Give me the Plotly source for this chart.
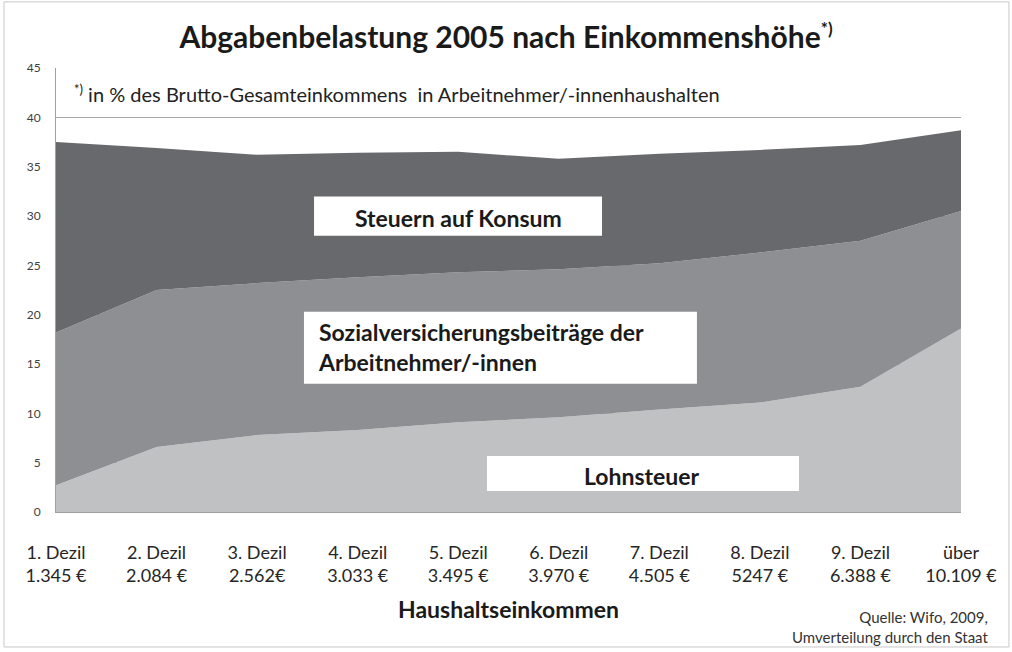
import plotly.graph_objects as go

categories = ["1. Dezil", "2. Dezil", "3. Dezil", "4. Dezil", "5. Dezil",
              "6. Dezil", "7. Dezil", "8. Dezil", "9. Dezil", "über"]
incomes = ["1.345 €", "2.084 €", "2.562€", "3.033 €", "3.495 €",
           "3.970 €", "4.505 €", "5247 €", "6.388 €", "10.109 €"]

lohnsteuer = [2.7, 6.6, 7.8, 8.3, 9.1, 9.6, 10.4, 11.1, 12.7, 18.6]
sozialvers = [15.5, 15.9, 15.4, 15.5, 15.2, 15.0, 14.8, 15.2, 14.8, 11.9]
konsum = [19.3, 14.4, 13.0, 12.6, 12.2, 11.2, 11.1, 10.4, 9.7, 8.2]

y_ticks = [0, 5, 10, 15, 20, 25, 30, 35, 40, 45]

x = list(range(len(categories)))
ticktext = [f"{c}<br>{i}" for c, i in zip(categories, incomes)]

FONT = "Lato"
fig = go.Figure()
series = [("Lohnsteuer", lohnsteuer, "#c0c1c3"),
          ("Sozialversicherungsbeiträge", sozialvers, "#8e8f93"),
          ("Steuern auf Konsum", konsum, "#68696d")]
for name, vals, col in series:
    fig.add_trace(go.Scatter(x=x, y=vals, name=name, stackgroup="one",
                             mode="none", fillcolor=col, hoverinfo="skip"))

fig.update_layout(
    width=1012, height=652,
    margin=dict(l=56, r=51, t=68, b=140),
    paper_bgcolor="white", plot_bgcolor="white",
    showlegend=False,
    font=dict(family=FONT, color="#222222"),
    title=dict(text="<b>Abgabenbelastung 2005 nach Einkommenshöhe<sup><span style='font-size:17px'>*)</span></sup></b>",
               x=0.5, xanchor="center", y=0.943, yanchor="middle",
               font=dict(size=30, color="#1a1a1a", family=FONT)),
    xaxis=dict(range=[0, 9], tickvals=x, ticktext=ticktext, showgrid=False,
               zeroline=False, showline=True, linecolor="#a0a0a0", linewidth=1,
               tickfont=dict(size=18, color="#262626"), ticks="",
               ticklabelstandoff=24, fixedrange=True),
    yaxis=dict(range=[0, 45], tickvals=y_ticks, showgrid=True, gridcolor="#a8a8a8",
               gridwidth=1, zeroline=False, showline=True, linecolor="#a0a0a0",
               tickfont=dict(size=12, color="#404040"), ticks="",
               ticklabelstandoff=12, fixedrange=True),
)

# outer frame
fig.add_shape(type="rect", xref="paper", yref="paper",
              x0=-0.0575, x1=1.053, y0=-0.304, y1=1.149,
              line=dict(color="#c8c8c8", width=1), fillcolor="rgba(0,0,0,0)", layer="below")

# white label boxes
boxes = [(2.566, 5.43, 28.0, 31.97), (2.466, 6.374, 13.0, 20.3), (4.286, 7.389, 2.13, 5.68)]
for x0, x1, y0, y1 in boxes:
    fig.add_shape(type="rect", xref="x", yref="y", x0=x0, x1=x1, y0=y0, y1=y1,
                  fillcolor="white", line=dict(width=0), layer="above")

fig.add_annotation(x=4.0, y=29.75, xref="x", yref="y", text="<b>Steuern auf Konsum</b>",
                   showarrow=False, font=dict(size=23, color="#1a1a1a"))
fig.add_annotation(x=2.586, y=16.75, xref="x", yref="y", xanchor="left", yanchor="middle",
                   text="<b>Sozialversicherungsbeiträge der<br>Arbeitnehmer/-innen</b>",
                   showarrow=False, align="left", font=dict(size=23, color="#1a1a1a"))
fig.add_annotation(x=5.83, y=3.6, xref="x", yref="y", text="<b>Lohnsteuer</b>",
                   showarrow=False, font=dict(size=23, color="#1a1a1a"))

fig.add_annotation(x=0.018, y=42.4, xref="paper", yref="y", xanchor="left", yanchor="middle",
                   text="<sup><span style='font-size:13px'>*)</span></sup> in % des Brutto-Gesamteinkommens  in Arbeitnehmer/-innenhaushalten",
                   showarrow=False, font=dict(size=20, color="#222222"))

fig.add_annotation(x=0.5, y=(512 - 609) / 444, xref="paper", yref="paper", yanchor="middle",
                   text="<b>Haushaltseinkommen</b>", showarrow=False,
                   font=dict(size=23, color="#1a1a1a"))
fig.add_annotation(x=(990 - 56) / 905, y=(512 - 627) / 444, xref="paper", yref="paper",
                   xanchor="right", yanchor="middle", align="right",
                   text="Quelle: Wifo, 2009,<br>Umverteilung durch den Staat",
                   showarrow=False, font=dict(size=15, color="#333333"))

fig.write_html("out.html")
